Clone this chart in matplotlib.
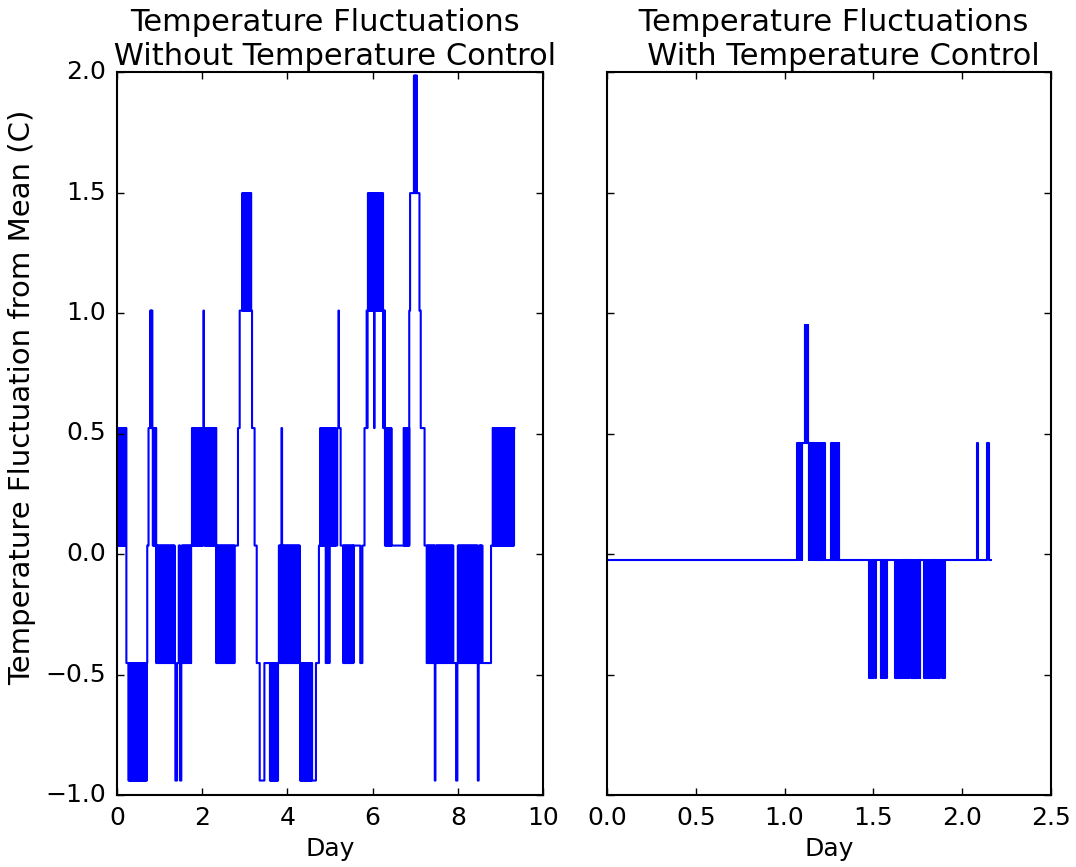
import numpy as np
import matplotlib
matplotlib.use("Agg")
import matplotlib.pyplot as plt

# Quantised sensor readings (deg C from mean)
left_levels = [-0.94, -0.4525, 0.035, 0.5225, 1.01, 1.4975, 1.985]
right_levels = [-0.5125, -0.025, 0.4625, 0.95]

# Each run starts at a given day; a single level means the reading holds,
# several levels mean the reading flickers between them sample by sample.
left_run_start = [
    0.02, 0.22, 0.26, 0.71, 0.74, 0.77, 0.84, 0.92, 1.35, 1.37,
    1.41, 1.44, 1.48, 1.51, 1.75, 2.02, 2.05, 2.33, 2.77, 2.84,
    2.88, 2.93, 3.15, 3.17, 3.23, 3.28, 3.35, 3.46, 3.58, 3.79,
    3.86, 3.875, 4.29, 4.59, 4.67, 4.74, 4.76, 4.90, 5.02, 5.13,
    5.17, 5.19, 5.22, 5.25, 5.31, 5.55, 5.71, 5.76, 5.81, 5.85,
    5.88, 6.035, 6.045, 6.25, 6.29, 6.44, 6.72, 6.86, 6.88, 6.96,
    7.05, 7.10, 7.13, 7.22, 7.27, 7.46, 7.475, 7.90, 7.96, 7.99,
    8.47, 8.49, 8.55, 8.58, 8.78, 8.81,
]
left_run_levels = [
    (2, 3), (1,), (1, 0), (2,), (3,), (3, 4), (2, 3), (1, 2), (1,), (0,),
    (1,), (1, 2), (0,), (1, 2), (2, 3), (3, 4), (2, 3), (1, 2), (2,), (3,),
    (4,), (4, 5), (4,), (3,), (2,), (1,), (0,), (1,), (1, 0), (1, 2),
    (3,), (1, 2), (1, 0), (0,), (1,), (2,), (2, 3), (1, 2, 3, 2), (2, 3), (2,),
    (3,), (3, 4), (3,), (2,), (1, 2), (2,), (1,), (2,), (3,), (3, 4),
    (4, 5), (3,), (4, 5), (3, 4), (2, 3), (2,), (2, 3), (4,), (5,), (5, 6),
    (5,), (4,), (3,), (2,), (1, 2), (0,), (1, 2), (1,), (0,), (1, 2),
    (0,), (1, 2), (2,), (1,), (2,), (2, 3),
]
left_end = 9.33

right_run_start = [
    0.0, 1.068, 1.100, 1.110, 1.135, 1.228, 1.260, 1.283, 1.290, 1.310,
    1.477, 1.500, 1.508, 1.513, 1.541, 1.578, 1.622, 1.705, 1.712, 1.762,
    1.785, 1.823, 1.828, 1.875, 1.887, 1.905, 2.082, 2.090, 2.142, 2.150,
]
right_run_levels = [
    (1,), (1, 2), (2,), (2, 3), (1, 2), (1,), (1, 2), (1,), (1, 2), (1,),
    (0, 1), (1,), (0,), (1,), (0, 1), (1,), (0, 1), (1,), (0, 1), (1,),
    (0, 1), (1,), (0, 1), (1,), (0, 1), (1,), (2,), (1,), (2,), (1,),
]
right_end = 2.162

left_sample_step = 0.01
right_sample_step = 0.003


def expand_runs(starts, levels, end, values, step):
    days, temps = [], []
    bounds = list(starts) + [end]
    for i, lev in enumerate(levels):
        t0, t1 = bounds[i], bounds[i + 1]
        if len(lev) == 1:
            days.append(t0)
            temps.append(values[lev[0]])
        else:
            ts = np.arange(t0, t1, step)
            for k, t in enumerate(ts):
                days.append(t)
                temps.append(values[lev[k % len(lev)]])
    days.append(end)
    temps.append(temps[-1])
    return np.array(days), np.array(temps)


plt.style.use("classic")
plt.rcParams.update({
    "font.family": ["DejaVu Sans"],
    "font.size": 18,
    "figure.facecolor": "white",
    "savefig.facecolor": "white",
    "axes.linewidth": 1.5,
    "xtick.major.size": 5,
    "ytick.major.size": 5,
    "xtick.major.width": 1.0,
    "ytick.major.width": 1.0,
    "xtick.major.pad": 8,
    "ytick.major.pad": 8,
    "xtick.labelsize": 18,
    "ytick.labelsize": 18,
})

fig = plt.figure(figsize=(10.76, 8.67), dpi=100)
ax1 = fig.add_axes([117 / 1076, 1 - 795 / 867, 426 / 1076, 723 / 867])
ax2 = fig.add_axes([607 / 1076, 1 - 795 / 867, 444 / 1076, 723 / 867])

d1, t1 = expand_runs(left_run_start, left_run_levels, left_end, left_levels, left_sample_step)
d2, t2 = expand_runs(right_run_start, right_run_levels, right_end, right_levels, right_sample_step)

ax1.plot(d1, t1, color="#0000ff", lw=1.5, drawstyle="steps-post")
ax2.plot(d2, t2, color="#0000ff", lw=1.5, drawstyle="steps-post")

ax1.set_xlim(0, 10)
ax1.set_ylim(-1.0, 2.0)
ax1.set_xticks(np.arange(0, 11, 2))
ax1.set_yticks(np.arange(-1.0, 2.01, 0.5))
ax1.set_xlabel("Day", fontsize=18)
ax1.set_ylabel("Temperature Fluctuation from Mean (C)", fontsize=21)
ax1.yaxis.set_label_coords(-0.19, 0.55)
ax1.set_title("Temperature Fluctuations \n Without Temperature Control", fontsize=22)

ax2.set_xlim(0, 2.5)
ax2.set_ylim(-1.0, 2.0)
ax2.set_xticks(np.arange(0, 2.51, 0.5))
ax2.set_yticks(np.arange(-1.0, 2.01, 0.5))
ax2.set_yticklabels([])
ax2.set_xlabel("Day", fontsize=18)
ax2.set_title(" Temperature Fluctuations\n   With Temperature Control", fontsize=22)

fig.savefig("out.png", dpi=100)
